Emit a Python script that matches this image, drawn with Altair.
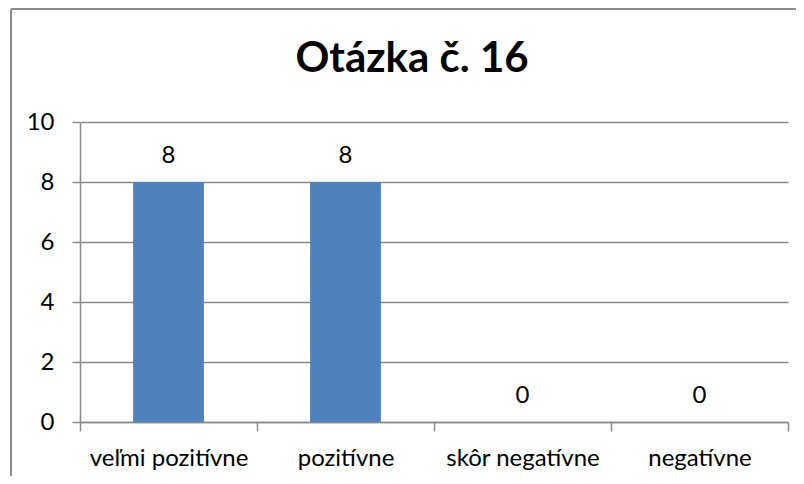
import altair as alt
import pandas as pd

categories = ["veľmi pozitívne", "pozitívne", "skôr negatívne", "negatívne"]
values = [8, 8, 0, 0]
title_text = "Otázka č. 16"
y_ticks = [0, 2, 4, 6, 8, 10]

df = pd.DataFrame({"kategoria": categories, "pocet": values})

GRAY = "#8c8c8c"
FONT = "Lato"

x_enc = alt.X(
    "kategoria:N",
    sort=categories,
    title=None,
    scale=alt.Scale(paddingInner=0, paddingOuter=0),
    axis=alt.Axis(
        labelAngle=0,
        tickBand="extent",
        grid=False,
        domainColor=GRAY,
        domainWidth=1.5,
        tickColor=GRAY,
        tickWidth=1.5,
        tickSize=9,
        labelFont=FONT,
        labelFontSize=24,
        labelColor="black",
        labelPadding=15,
    ),
)
y_enc = alt.Y(
    "pocet:Q",
    title=None,
    scale=alt.Scale(domain=[0, 10]),
    axis=alt.Axis(
        values=y_ticks,
        grid=True,
        gridColor=GRAY,
        gridWidth=1.5,
        domainColor=GRAY,
        domainWidth=1.5,
        tickColor=GRAY,
        tickWidth=1.5,
        tickSize=8,
        labelFont=FONT,
        labelFontSize=24,
        labelColor="black",
        labelPadding=18,
    ),
)

base = alt.Chart(df)
bars = base.mark_bar(color="#4F81BD", width=alt.RelativeBandSize(0.4)).encode(x=x_enc, y=y_enc)
labels = base.mark_text(font=FONT, fontSize=24, color="black", baseline="alphabetic", dy=-19).encode(
    x=alt.X("kategoria:N", sort=categories),
    y="pocet:Q",
    text="pocet:Q",
)

frame_df = pd.DataFrame({"a": [0]})
top_line = alt.Chart(frame_df).mark_rule(color=GRAY, strokeWidth=2).encode(
    x=alt.value(-69), x2=alt.value(730), y=alt.value(-113)
)
left_line = alt.Chart(frame_df).mark_rule(color=GRAY, strokeWidth=2).encode(
    x=alt.value(-69), y=alt.value(-113), y2=alt.value(380)
)
title_mark = alt.Chart(frame_df).mark_text(
    text=title_text,
    font=FONT,
    fontSize=42,
    fontWeight="bold",
    color="black",
    align="center",
    baseline="alphabetic",
).encode(x=alt.value(332), y=alt.value(-50))

chart = (
    alt.layer(bars, labels, top_line, left_line, title_mark)
    .properties(
        width=708,
        height=300,
        autosize=alt.AutoSizeParams(type="none"),
        padding={"left": 72, "top": 114, "right": 8, "bottom": 54},
        background="white",
    )
    .configure_view(stroke=None)
)

chart.save("out.html", embed_options={"renderer": "svg", "actions": False})
